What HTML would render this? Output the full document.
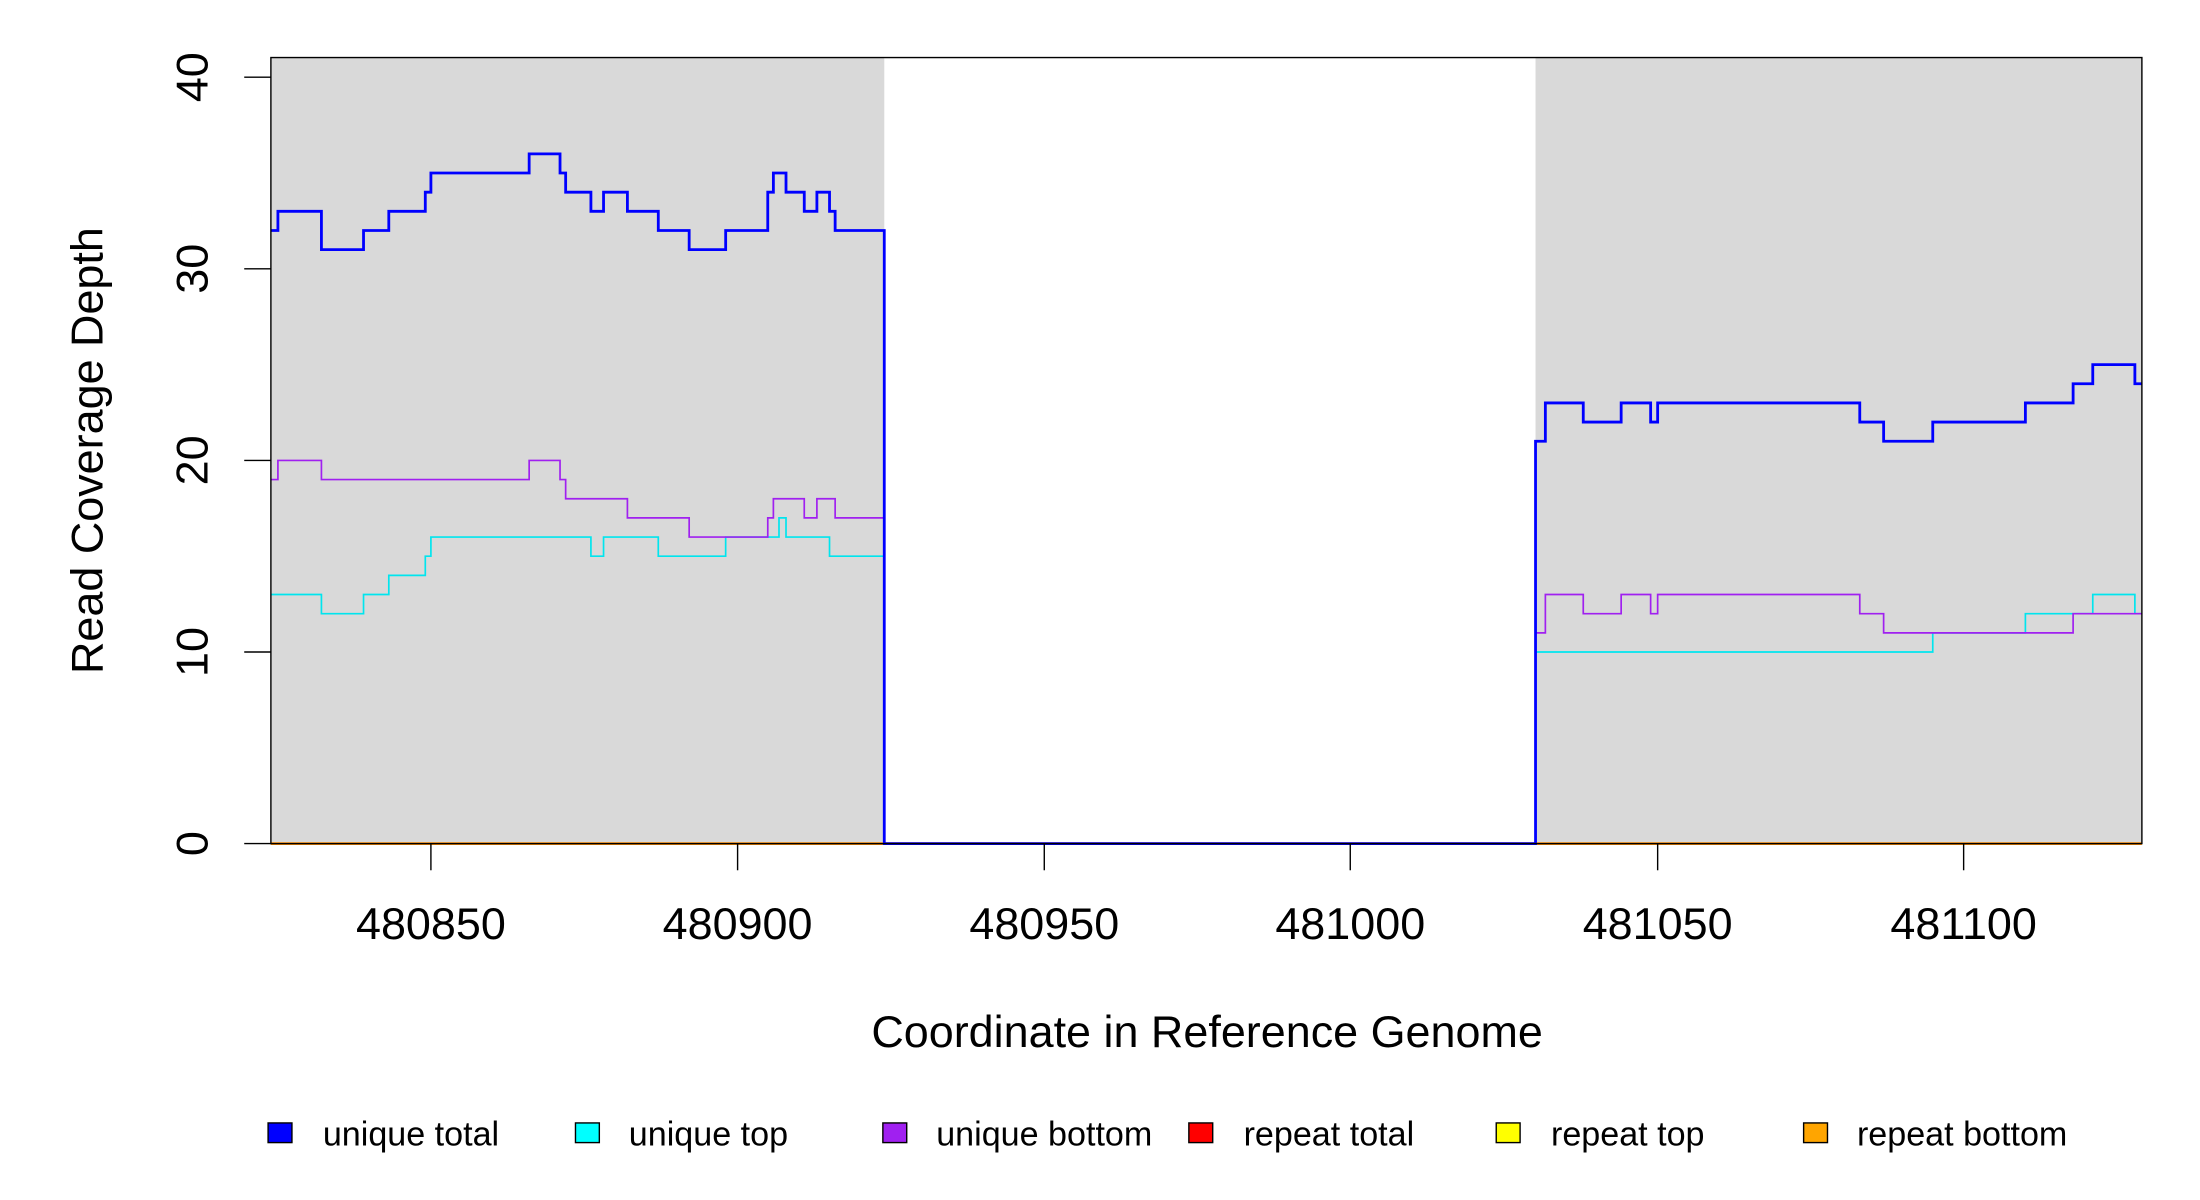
<!DOCTYPE html>
<html><head><meta charset="utf-8"><style>
html,body{margin:0;padding:0;background:#fff;}
svg{display:block;}
text{font-family:"Liberation Sans",Arial,sans-serif;fill:#000;}
</style></head><body>
<svg width="2200" height="1200" viewBox="0 0 1567.4 854.9" preserveAspectRatio="none" xmlns="http://www.w3.org/2000/svg">
<rect x="0" y="0" width="1568" height="855" fill="#fff"/>
<rect x="193" y="41" width="437" height="560" fill="#d9d9d9"/>
<rect x="1094" y="41" width="432" height="560" fill="#d9d9d9"/>
<line x1="193" y1="601" x2="1526" y2="601" stroke="#ff8c00" stroke-width="2"/>
<path d="M193 423.55 H229 V437.2 H259 V423.55 H277 V409.9 H303 V396.25 H307 V382.6 H421 V396.25 H430 V382.6 H469 V396.25 H517 V382.6 H555 V368.95 H560 V382.6 H591 V396.25 H630 V601 H1094 V464.5 H1377 V450.85 H1443 V437.2 H1491 V423.55 H1521 V437.2 H1526" fill="none" stroke="#00e5ee" stroke-width="1.2"/>
<path d="M193 341.65 H198 V328 H229 V341.65 H377 V328 H399 V341.65 H403 V355.3 H447 V368.95 H491 V382.6 H547 V368.95 H551 V355.3 H573 V368.95 H582 V355.3 H595 V368.95 H630 V601 H1094 V450.85 H1101 V423.55 H1128 V437.2 H1155 V423.55 H1176 V437.2 H1181 V423.55 H1325 V437.2 H1342 V450.85 H1477 V437.2 H1526" fill="none" stroke="#a020f0" stroke-width="1.2"/>
<path d="M193 164.2 H198 V150.55 H229 V177.85 H259 V164.2 H277 V150.55 H303 V136.9 H307 V123.25 H377 V109.6 H399 V123.25 H403 V136.9 H421 V150.55 H430 V136.9 H447 V150.55 H469 V164.2 H491 V177.85 H517 V164.2 H547 V136.9 H551 V123.25 H560 V136.9 H573 V150.55 H582 V136.9 H591 V150.55 H595 V164.2 H630 V601 H1094 V314.35 H1101 V287.05 H1128 V300.7 H1155 V287.05 H1176 V300.7 H1181 V287.05 H1325 V300.7 H1342 V314.35 H1377 V300.7 H1443 V287.05 H1477 V273.4 H1491 V259.75 H1521 V273.4 H1526" fill="none" stroke="#0000ff" stroke-width="2"/>
<rect x="193" y="41" width="1333" height="560" fill="none" stroke="#000" stroke-width="1"/>
<g stroke="#000" stroke-width="1">
<line x1="174" y1="601" x2="193" y2="601"/><line x1="174" y1="464.5" x2="193" y2="464.5"/><line x1="174" y1="328" x2="193" y2="328"/><line x1="174" y1="191.5" x2="193" y2="191.5"/><line x1="174" y1="55" x2="193" y2="55"/>
<line x1="307" y1="601" x2="307" y2="620"/><line x1="525.5" y1="601" x2="525.5" y2="620"/><line x1="744" y1="601" x2="744" y2="620"/><line x1="962" y1="601" x2="962" y2="620"/><line x1="1181" y1="601" x2="1181" y2="620"/><line x1="1399" y1="601" x2="1399" y2="620"/>
</g>
<g font-size="32" text-anchor="middle">
<text transform="translate(148,601) rotate(-90)">0</text>
<text transform="translate(148,464.5) rotate(-90)">10</text>
<text transform="translate(148,328) rotate(-90)">20</text>
<text transform="translate(148,191.5) rotate(-90)">30</text>
<text transform="translate(148,55) rotate(-90)">40</text>
<text x="307" y="669">480850</text><text x="525.5" y="669">480900</text><text x="744" y="669">480950</text><text x="962" y="669">481000</text><text x="1181" y="669">481050</text><text x="1399" y="669">481100</text>
<text x="860" y="746" font-size="32">Coordinate in Reference Genome</text>
<text transform="translate(73,321) rotate(-90)" font-size="32">Read Coverage Depth</text>
</g>
<g stroke="#000" stroke-width="1">
<rect x="191" y="800" width="17" height="14" fill="#0000ff"/>
<rect x="410" y="800" width="17" height="14" fill="#00ffff"/>
<rect x="629" y="800" width="17" height="14" fill="#a020f0"/>
<rect x="847" y="800" width="17" height="14" fill="#ff0000"/>
<rect x="1066" y="800" width="17" height="14" fill="#ffff00"/>
<rect x="1285" y="800" width="17" height="14" fill="#ffa500"/>
</g>
<g font-size="24.3">
<text x="230" y="816">unique total</text>
<text x="448" y="816">unique top</text>
<text x="667" y="816">unique bottom</text>
<text x="886" y="816">repeat total</text>
<text x="1105" y="816">repeat top</text>
<text x="1323" y="816">repeat bottom</text>
</g>
</svg>
</body></html>
